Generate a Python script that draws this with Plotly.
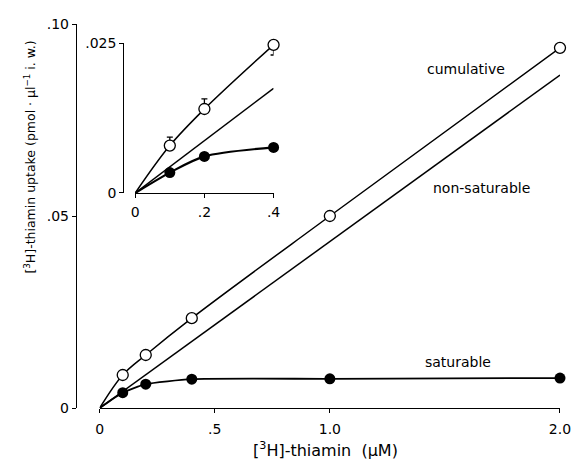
import plotly.graph_objects as go

# ---- main panel data (concentration in µM, uptake in pmol·µl-1 i.w.) ----
conc = [0.1, 0.2, 0.4, 1.0, 2.0]
cumulative = [0.0086, 0.0138, 0.0234, 0.0500, 0.0938]
saturable = [0.0040, 0.0062, 0.0075, 0.0076, 0.0078]
nonsat_conc = [0.0, 2.0]
nonsat = [0.0, 0.0867]

# ---- inset data ----
in_conc = [0.1, 0.2, 0.4]
in_cumulative = [0.0079, 0.0140, 0.0247]
in_err_plus = [0.0014, 0.0017, 0.0]
in_err_minus = [0.0, 0.0, 0.0017]
in_saturable = [0.0034, 0.0061, 0.0076]
in_nonsat_conc = [0.0, 0.4]
in_nonsat = [0.0, 0.01745]

x_ticks = [0, 0.5, 1.0, 2.0]
x_ticktext = ["0", ".5", "1.0", "2.0"]
y_ticks = [0, 0.05, 0.10]
y_ticktext = ["0", ".05", ".10"]
in_x_ticks = [0, 0.2, 0.4]
in_x_ticktext = ["0", ".2", ".4"]
in_y_ticks = [0, 0.025]
in_y_ticktext = ["0", ".025"]

FONT = "DejaVu Sans"
BLACK = "black"

fig = go.Figure()

def line_trace(x, y, width, smoothing=None, axes=("x", "y")):
    ln = dict(color=BLACK, width=width)
    if smoothing is not None:
        ln.update(shape="spline", smoothing=smoothing)
    return go.Scatter(x=x, y=y, mode="lines", line=ln, cliponaxis=False,
                      xaxis=axes[0], yaxis=axes[1], showlegend=False, hoverinfo="skip")

# main lines
fig.add_trace(line_trace([0] + conc, [0] + cumulative, 1.5, smoothing=1.0))
fig.add_trace(line_trace(nonsat_conc, nonsat, 1.5))
fig.add_trace(line_trace([0] + conc, [0] + saturable, 1.8, smoothing=0.5))
fig.add_trace(go.Scatter(x=conc, y=cumulative, mode="markers", cliponaxis=False,
                         marker=dict(symbol="circle", size=11, color="white",
                                     line=dict(color=BLACK, width=1.3)),
                         showlegend=False))
fig.add_trace(go.Scatter(x=conc, y=saturable, mode="markers", cliponaxis=False,
                         marker=dict(symbol="circle", size=11, color=BLACK),
                         showlegend=False))

# inset lines
fig.add_trace(line_trace([0] + in_conc, [0] + in_cumulative, 1.5, smoothing=1.0, axes=("x2", "y2")))
fig.add_trace(line_trace(in_nonsat_conc, in_nonsat, 1.5, axes=("x2", "y2")))
fig.add_trace(line_trace([0] + in_conc, [0] + in_saturable, 2.2, smoothing=0.8, axes=("x2", "y2")))
fig.add_trace(go.Scatter(x=in_conc, y=in_cumulative, mode="markers", cliponaxis=False,
                         marker=dict(symbol="circle", size=11, color="white",
                                     line=dict(color=BLACK, width=1.3)),
                         error_y=dict(type="data", symmetric=False, array=in_err_plus,
                                      arrayminus=in_err_minus, color=BLACK,
                                      thickness=1.3, width=3),
                         xaxis="x2", yaxis="y2", showlegend=False))
fig.add_trace(go.Scatter(x=in_conc, y=in_saturable, mode="markers", cliponaxis=False,
                         marker=dict(symbol="circle", size=11, color=BLACK),
                         xaxis="x2", yaxis="y2", showlegend=False))

axis_common = dict(showgrid=False, zeroline=False, showline=True, linecolor=BLACK,
                   linewidth=1.4, ticks="outside", ticklen=4, tickwidth=1.2,
                   tickcolor=BLACK, tickfont=dict(family=FONT, size=14, color=BLACK))

fig.update_layout(
    width=583, height=466,
    margin=dict(l=76, r=17, t=24, b=58),
    paper_bgcolor="white", plot_bgcolor="white",
    font=dict(family=FONT, color=BLACK),
    xaxis=dict(range=[0, 2.0], domain=[0.049, 1.0], anchor="y",
               tickvals=x_ticks, ticktext=x_ticktext, ticklabelstandoff=4, **axis_common),
    yaxis=dict(range=[0, 0.10], domain=[0, 1], anchor="free", position=0,
               tickvals=y_ticks, ticktext=y_ticktext, **axis_common),
    xaxis2=dict(range=[0, 0.4], domain=[0.1224, 0.4082], anchor="y2",
                tickvals=in_x_ticks, ticktext=in_x_ticktext, ticklabelstandoff=2, **axis_common),
    yaxis2=dict(range=[0, 0.025], domain=[0.5599, 0.9505], anchor="free", position=0.098,
                tickvals=in_y_ticks, ticktext=in_y_ticktext, **axis_common),
    showlegend=False,
)

ann_font = dict(family=FONT, size=14, color=BLACK)
for txt, ax, ay in [("cumulative", 1.592, 0.0883),
                    ("non-saturable", 1.657, 0.0573),
                    ("saturable", 1.558, 0.0120)]:
    fig.add_annotation(text=txt, x=ax, y=ay, xref="x", yref="y", showarrow=False,
                       xanchor="center", yanchor="middle", font=ann_font)

fig.add_annotation(text="[<sup>3</sup>H]-thiamin  (µM)", x=0.5163, y=-0.109,
                   xref="paper", yref="paper", showarrow=False,
                   xanchor="center", yanchor="middle",
                   font=dict(family=FONT, size=16, color=BLACK))
fig.add_annotation(text="[<sup>3</sup>H]-thiamin uptake (pmol · µl<sup>−1</sup> i. w.)",
                   x=-0.0959, y=0.6536, xref="paper", yref="paper", textangle=-90,
                   xanchor="center", yanchor="middle",
                   showarrow=False, font=dict(family=FONT, size=12.5, color=BLACK))

fig.write_html("out.html")
